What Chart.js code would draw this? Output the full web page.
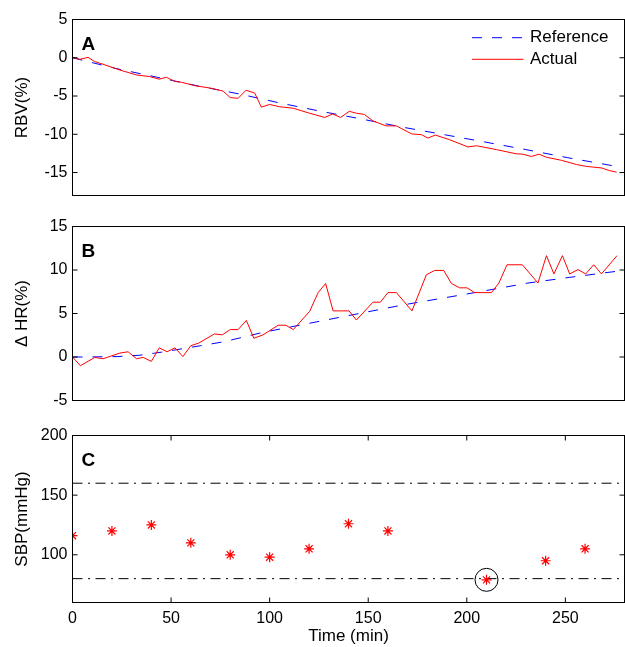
<!DOCTYPE html>
<html><head><meta charset="utf-8">
<script src="https://cdn.jsdelivr.net/npm/chart.js@4.4.1/dist/chart.umd.min.js"></script>
<style>
html,body{margin:0;padding:0;background:#fff;}
#wrap{position:relative;width:625px;height:647px;overflow:hidden;background:#fff;}
canvas{position:absolute;left:0;}
</style></head><body>
<div id="wrap">
<canvas id="cA" width="625" height="210" style="top:0px"></canvas>
<canvas id="cB" width="625" height="210" style="top:210px"></canvas>
<canvas id="cC" width="625" height="227" style="top:420px"></canvas>
</div>
<script>
// ---------- data ----------
const xRange = [0, 280];
const xTicks = [0, 50, 100, 150, 200, 250];

// Panel A: RBV (%)
const yRangeA = [-18, 5];
const yTicksA = [-15, -10, -5, 0, 5];
const timeA = [0,3.7,7.9,11.3,15.5,24,32.5,39,44,47.6,52,55.3,62,69.6,76.4,80,84,88,92.4,95.8,100,105,112,120.3,128,132,136,140.4,144,148,152.4,159,164.3,172,177,180.3,184,191.2,200.6,205,215,225,228.4,232.8,236.6,240.4,248,255.6,260.7,268.3,272.5,276];
const rbvActual = [0.05,-0.2,0.05,-0.5,-0.85,-1.6,-2.25,-2.45,-2.8,-2.55,-3.1,-3.2,-3.65,-3.95,-4.35,-5.2,-5.3,-4.25,-4.6,-6.45,-6.1,-6.4,-6.6,-7.25,-7.8,-7.35,-7.8,-7.0,-7.25,-7.4,-8.25,-8.9,-8.9,-9.95,-10.05,-10.5,-10.1,-10.7,-11.65,-11.5,-12.0,-12.55,-12.6,-12.9,-12.6,-13.0,-13.4,-13.95,-14.2,-14.4,-14.75,-14.95];
const refTimeA = [0,22,43,64,85,105,126,146.5,167,189,209,230,251,276];
const rbvReference = [0,-1.4,-2.55,-3.7,-4.75,-5.9,-7.0,-8.0,-9.05,-10.07,-11.0,-12.0,-13.05,-14.2];

// Panel B: delta HR (%)
const yRangeB = [-5, 15];
const yTicksB = [-5, 0, 5, 10, 15];
const timeB = [0,4,11.3,15.5,24,28.2,32.5,35.8,40,44,48,52,56,60,64,72,76,80,84,88.2,92,96.7,104.3,108.2,112,120.3,124.6,128.4,132.2,140.3,144,152.4,156.2,160,164.3,172.2,179.5,183.7,188.3,192.2,196.4,200.1,204,212.5,216.3,220.4,228.2,236.1,240.4,244.2,248.5,252.2,256.4,260.3,264.4,268.3,276.2];
const hrActual = [0,-1.0,-0.05,-0.2,0.45,0.6,-0.2,-0.05,-0.5,1.05,0.6,1.05,0.05,1.3,1.6,2.65,2.55,3.15,3.15,4.2,2.15,2.55,3.65,3.65,3.15,5.25,7.4,8.45,5.3,5.3,4.25,6.3,6.3,7.4,7.4,5.3,9.45,9.95,9.95,8.45,7.95,7.95,7.4,7.4,8.5,10.6,10.6,8.5,11.65,9.55,11.65,9.55,10.05,9.55,10.6,9.55,11.65];
const refTimeB = [0,6,23,34,45,55,65,76,86,96,138,168,200,231,252,276];
const hrReference = [0,0,0.05,0.2,0.55,0.92,1.3,1.72,2.25,2.8,4.67,6.0,7.24,8.5,9.15,9.85];

// Panel C: SBP (mmHg)
const yRangeC = [60, 200];
const yTicksC = [100, 150, 200];
const timeC = [0,20,40,60,80,100,120,140,160,210,240,260];
const sbp = [116,120,125,110,100,98,105,126,120,79,95,105];
const limitsC = [80, 160];
const flaggedTime = [210];
const flaggedSbp = [79];

// ---------- helpers ----------
const FONT = '"Liberation Sans", Arial, Helvetica, sans-serif';
Chart.defaults.font.family = FONT;
Chart.defaults.color = '#000';
Chart.defaults.animation = false;
Chart.defaults.plugins.legend.display = false;
Chart.defaults.plugins.tooltip.enabled = false;

const zip = (xs, ys) => xs.map((x, i) => ({x: x, y: ys[i]}));

function yScale(range, ticks, title) {
  return {
    type: 'linear', min: range[0], max: range[1],
    afterBuildTicks: s => { s.ticks = ticks.map(v => ({value: v})); },
    afterFit: s => { s.width = 72.5; s.paddingTop = 0; s.paddingBottom = 0; },
    grid: {display: false, drawTicks: false},
    border: {display: false},
    ticks: {padding: 5, font: {size: 16}, color: '#000', autoSkip: false},
    title: {display: true, text: title, font: {size: 17}, color: '#000', padding: {top: 12, bottom: 0}}
  };
}
function xScale(show) {
  const s = {
    type: 'linear', min: xRange[0], max: xRange[1], display: show,
    afterBuildTicks: sc => { sc.ticks = xTicks.map(v => ({value: v})); },
    grid: {display: false, drawTicks: false},
    border: {display: false},
    ticks: {padding: 6, font: {size: 16}, color: '#000', maxRotation: 0, autoSkip: false},
    title: {display: true, text: 'Time (min)', font: {size: 17}, color: '#000', padding: {top: 0, bottom: 0}}
  };
  s.afterFit = sc => {
    sc.paddingLeft = 0; sc.paddingRight = 0;
    if (show) sc.height = 44.5;
  };
  return s;
}

const panelPlugin = {
  id: 'panel',
  afterDraw(chart, args, o) {
    const ctx = chart.ctx, a = chart.chartArea;
    ctx.save();
    ctx.setLineDash([]);
    ctx.strokeStyle = '#000';
    ctx.lineWidth = 1;
    ctx.strokeRect(a.left, a.top, a.right - a.left, a.bottom - a.top);
    ctx.beginPath();
    const ys = chart.scales.y;
    ys.ticks.forEach(t => {
      const p = ys.getPixelForValue(t.value);
      ctx.moveTo(a.left, p); ctx.lineTo(a.left + 5, p);
      ctx.moveTo(a.right, p); ctx.lineTo(a.right - 5, p);
    });
    if (o.xTicks) {
      const xs = chart.scales.x;
      xs.ticks.forEach(t => {
        const p = xs.getPixelForValue(t.value);
        ctx.moveTo(p, a.bottom); ctx.lineTo(p, a.bottom - 5);
        ctx.moveTo(p, a.top); ctx.lineTo(p, a.top + 5);
      });
    }
    ctx.stroke();
    ctx.fillStyle = '#000';
    ctx.font = 'bold 19px ' + FONT;
    ctx.textAlign = 'left';
    ctx.textBaseline = 'alphabetic';
    ctx.fillText(o.letter, a.left + 9, a.top + 30);
    if (o.legend) {
      o.legend.forEach((di, i) => {
        const ds = chart.data.datasets[di];
        const y = a.top + 18.2 + i * 21.6;
        ctx.strokeStyle = ds.borderColor;
        ctx.lineWidth = ds.borderWidth;
        ctx.setLineDash(ds.borderDash || []);
        ctx.beginPath();
        ctx.moveTo(a.right - 152.5, y); ctx.lineTo(a.right - 101, y);
        ctx.stroke();
        ctx.setLineDash([]);
        ctx.fillStyle = '#000';
        ctx.font = '17px ' + FONT;
        ctx.textBaseline = 'middle';
        ctx.fillText(ds.label, a.right - 94.5, y);
      });
    }
    ctx.restore();
  }
};

function lineDatasets(tAct, vAct, tRef, vRef) {
  return [
    {label: 'Reference', data: zip(tRef, vRef), borderColor: '#0000ff', borderWidth: 1,
     borderDash: [10, 10], pointRadius: 0, tension: 0, fill: false, order: 1},
    {label: 'Actual', data: zip(tAct, vAct), borderColor: '#ff0000', borderWidth: 1,
     pointRadius: 0, tension: 0, fill: false, order: 0}
  ];
}

// ---------- Panel A ----------
new Chart(document.getElementById('cA'), {
  type: 'line',
  data: {datasets: lineDatasets(timeA, rbvActual, refTimeA, rbvReference)},
  options: {
    responsive: false,
    layout: {autoPadding: false, padding: {top: 19.5, bottom: 14.5, left: 0, right: 0.5}},
    scales: {x: xScale(false), y: yScale(yRangeA, yTicksA, 'RBV(%)')},
    plugins: {panel: {letter: 'A', xTicks: false, legend: [0, 1]}}
  },
  plugins: [panelPlugin]
});

// ---------- Panel B ----------
new Chart(document.getElementById('cB'), {
  type: 'line',
  data: {datasets: lineDatasets(timeB, hrActual, refTimeB, hrReference)},
  options: {
    responsive: false,
    layout: {autoPadding: false, padding: {top: 16.5, bottom: 19.5, left: 0, right: 0.5}},
    scales: {x: xScale(false), y: yScale(yRangeB, yTicksB, '\u0394 HR(%)')},
    plugins: {panel: {letter: 'B', xTicks: false}}
  },
  plugins: [panelPlugin]
});

// ---------- Panel C ----------
const limitSets = limitsC.map(v => ({
  label: 'limit ' + v, data: [{x: xRange[0], y: v}, {x: xRange[1], y: v}],
  showLine: true, borderColor: '#000', borderWidth: 1, borderDash: [10, 5.5, 2, 5.5],
  pointRadius: 0, fill: false, order: 3
}));
new Chart(document.getElementById('cC'), {
  type: 'scatter',
  data: {datasets: [
    {label: 'SBP', data: zip(timeC, sbp), pointStyle: 'star', pointRadius: 5,
     pointBorderColor: '#ff0000', pointBackgroundColor: '#ff0000', pointBorderWidth: 1.2, order: 1},
    {label: 'flagged', data: zip(flaggedTime, flaggedSbp), pointStyle: 'circle', pointRadius: 11.5,
     pointBorderColor: '#000', pointBackgroundColor: 'rgba(0,0,0,0)', pointBorderWidth: 1, order: 0},
    ...limitSets
  ]},
  options: {
    responsive: false,
    layout: {autoPadding: false, padding: {top: 15.5, bottom: 0, left: 0, right: 0.5}},
    scales: {x: xScale(true), y: yScale(yRangeC, yTicksC, 'SBP(mmHg)')},
    plugins: {panel: {letter: 'C', xTicks: true}}
  },
  plugins: [panelPlugin]
});
</script>
</body></html>
